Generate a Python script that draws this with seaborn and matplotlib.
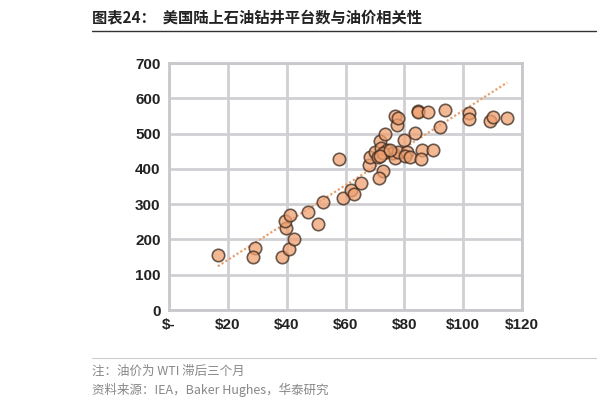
import numpy as np
import matplotlib.pyplot as plt
import seaborn as sns

# 油价（滞后三个月，美元/桶）与陆上钻井平台数
oil_price = [16.6, 29.3, 28.7, 38.3, 40.9, 42.5, 39.7, 39.5, 41.2, 47.4, 50.8, 52.2,
             57.7, 59.3, 61.9, 62.9, 65.4, 68.0, 68.4, 70.0, 71.2, 71.8, 72.1, 72.9,
             71.5, 73.5, 74.0, 76.0, 76.9, 78.0, 80.0, 80.8, 80.3, 82.0, 83.7, 86.0,
             85.7, 89.7, 76.9, 77.4, 78.0, 84.6, 84.8, 87.9, 93.8, 92.0, 102.0, 102.0,
             109.0, 110.0, 115.0, 72.9, 71.8, 75.0]
rig_count = [156, 175, 151, 151, 172, 200, 232, 251, 270, 279, 244, 305,
             428, 317, 341, 329, 360, 412, 435, 449, 435, 478, 459, 393,
             374, 499, 454, 445, 430, 449, 482, 449, 437, 433, 501, 454,
             428, 454, 551, 525, 544, 563, 560, 561, 568, 520, 558, 542,
             535, 546, 544, 445, 437, 454]
x_ticks = [0, 20, 40, 60, 80, 100, 120]
x_labels = ['$-', '$20', '$40', '$60', '$80', '$100', '$120']
y_ticks = [0, 100, 200, 300, 400, 500, 600, 700]

sns.set_style('white')
plt.rcParams['font.family'] = ['Noto Sans CJK SC', 'DejaVu Sans']

fig = plt.figure(figsize=(6.16, 4.09), dpi=100)
ax = fig.add_axes([169 / 616, 1 - 310 / 409, 353 / 616, 247 / 409])

sns.scatterplot(x=oil_price, y=rig_count, ax=ax, s=80, color='#f0a070',
                edgecolor='#3a2a20', linewidth=1.2, alpha=0.75, zorder=3)

k, b = np.polyfit(oil_price, rig_count, 1)
xs = np.array([min(oil_price), max(oil_price)])
ax.plot(xs, k * xs + b, lw=1.6, dashes=(1, 1), color='#e8a070', zorder=2)

ax.set_xlim(0, 120)
ax.set_ylim(0, 700)
ax.set_xticks(x_ticks)
ax.set_xticklabels(x_labels)
ax.set_yticks(y_ticks)
ax.grid(True, color='#d0d0d4', lw=2)
for s in ax.spines.values():
    s.set_color('#c8c8cc')
    s.set_linewidth(2)
ax.tick_params(length=0, labelsize=11, colors='#222222', pad=6)
for t in ax.get_xticklabels() + ax.get_yticklabels():
    t.set_fontfamily(['Liberation Sans', 'DejaVu Sans'])
    t.set_fontweight('bold')

fig.text(92 / 616, 1 - 18 / 409, '图表24：  美国陆上石油钻井平台数与油价相关性',
         fontsize=11, fontweight='bold', va='center', color='#222222')
fig.add_artist(plt.Line2D([92 / 616, 596 / 616], [1 - 31 / 409] * 2, color='#333333', lw=1))
fig.text(92 / 616, 1 - 371 / 409, '注：油价为 WTI 滞后三个月', fontsize=9, color='#888888', va='center')
fig.text(92 / 616, 1 - 390 / 409, '资料来源：IEA，Baker Hughes，华泰研究', fontsize=9, color='#888888', va='center')
fig.add_artist(plt.Line2D([92 / 616, 596 / 616], [1 - 358 / 409] * 2, color='#cccccc', lw=0.8))

fig.savefig('out.png', dpi=100)
